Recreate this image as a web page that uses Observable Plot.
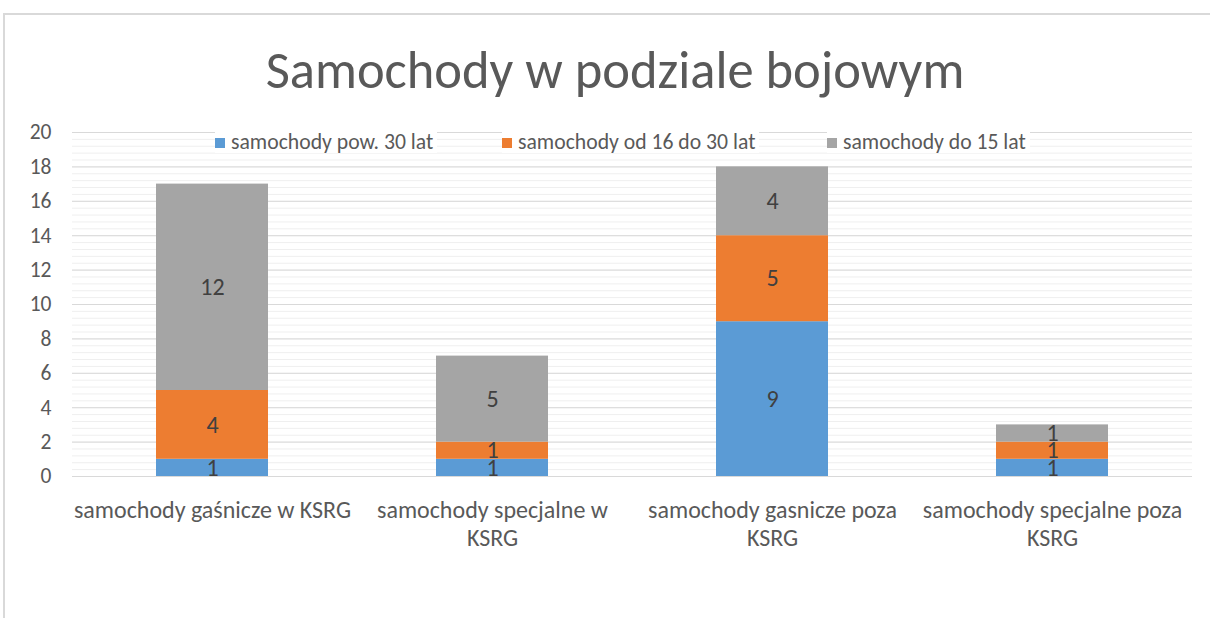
<!DOCTYPE html>
<html><head><meta charset="utf-8">
<script src="https://cdn.jsdelivr.net/npm/d3@7"></script>
<script src="https://cdn.jsdelivr.net/npm/@observablehq/plot@0.6"></script>
<style>
body{margin:0;background:#fff;font-family:"Carlito","Open Sans",sans-serif;}
#wrap{position:relative;width:1210px;height:618px;overflow:hidden;}
#frame{position:absolute;left:3px;top:13px;width:1300px;height:700px;border-left:2px solid #d9d9d9;border-top:2px solid #d9d9d9;}
#title{position:absolute;left:10px;width:1210px;top:44px;text-align:center;font-size:52.5px;line-height:52px;color:#595959;}
#legend{position:absolute;top:131px;left:0;width:1210px;height:22px;}
.li{position:absolute;top:0;background:#fff;font-size:21.7px;color:#595959;line-height:22px;padding-right:4px;white-space:nowrap;}
.sw{display:inline-block;width:10px;height:10px;margin-right:6px;vertical-align:1px;}
#chart{position:absolute;left:0;top:0;}
</style></head>
<body><div id="wrap"><div id="frame"></div><div id="chart"></div><div id="title">Samochody w podziale bojowym</div><div id="legend"></div></div>
<script>
const categories = ["samochody gaśnicze w KSRG","samochody specjalne w KSRG","samochody gasnicze poza KSRG","samochody specjalne poza KSRG"];
const categoryLabels = ["samochody gaśnicze w KSRG","samochody specjalne w\nKSRG","samochody gasnicze poza\nKSRG","samochody specjalne poza\nKSRG"];
const seriesNames = ["samochody pow. 30 lat","samochody od 16 do 30 lat","samochody do 15 lat"];
const seriesColors = ["#5b9bd5","#ed7d31","#a5a5a5"];
const over30 = [1,1,9,1];
const from16to30 = [4,1,5,1];
const upTo15 = [12,5,4,1];
const yTicks = [0,2,4,6,8,10,12,14,16,18,20];

const seriesValues = [over30, from16to30, upTo15];
const data = [];
categories.forEach((c,i)=>seriesValues.forEach((vals,s)=>data.push({category:c, series:seriesNames[s], value:vals[i]})));
const minorTicks = d3.range(0, 20.0001, 0.4).map(v=>+v.toFixed(1));

const plot = Plot.plot({
  width:1210, height:618,
  marginTop:132, marginBottom:142, marginLeft:72, marginRight:18,
  style:{fontFamily:'"Carlito","Open Sans",sans-serif', background:"transparent"},
  x:{domain:categories, paddingInner:0.6, paddingOuter:0.3, label:null},
  y:{domain:[0,20], label:null},
  color:{domain:seriesNames, range:seriesColors},
  marks:[
    Plot.ruleY(minorTicks, {stroke:"#efefef", strokeWidth:1}),
    Plot.ruleY(yTicks, {stroke:"#d9d9d9", strokeWidth:1}),
    Plot.barY(data, Plot.stackY({x:"category", y:"value", fill:"series", order:null})),
    Plot.text(data, Plot.stackY({x:"category", y:"value", text:"value", order:null, fill:"#404040", fontSize:24})),
    Plot.axisY(yTicks, {tickSize:0, tickPadding:21, fontSize:21.5, fill:"#595959", label:null}),
    Plot.axisX({tickSize:0, tickPadding:22, fontSize:24, fill:"#595959", label:null, lineHeight:1.15,
      tickFormat:(d)=>categoryLabels[categories.indexOf(d)]})
  ]
});
document.getElementById("chart").appendChild(plot);

const legendX = [215, 502, 827];
const lg = document.getElementById("legend");
seriesNames.forEach((n,i)=>{
  const el = document.createElement("div");
  el.className="li"; el.style.left=legendX[i]+"px";
  el.innerHTML = `<span class="sw" style="background:${seriesColors[i]}"></span>${n}`;
  lg.appendChild(el);
});
</script></body></html>
